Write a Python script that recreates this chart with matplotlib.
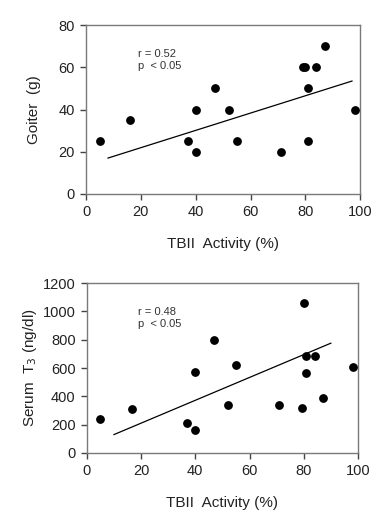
import matplotlib.pyplot as plt

# goiter panel
tbii_a = [5, 16, 37, 40, 40, 47, 52, 55, 71, 79, 80, 84, 87, 81, 81, 98]
goiter = [25, 35, 25, 40, 20, 50, 40, 25, 20, 60, 60, 60, 70, 50, 25, 40]
fit_a_x = [8, 97]
fit_a_y = [17, 53.5]

# serum T3 panel
tbii_b = [5, 16.5, 37, 40, 40, 47, 52, 55, 71, 79.5, 80, 81, 81, 84, 87, 98]
t3 = [240, 310, 210, 165, 575, 800, 337, 620, 337, 318, 1060, 568, 684, 684, 391, 611]
fit_b_x = [10, 90]
fit_b_y = [130, 776]

plt.rcParams['font.family'] = ['Liberation Sans', 'DejaVu Sans']

fig = plt.figure(figsize=(3.76, 5.13), dpi=100)
ax1 = fig.add_axes([0.229, 0.622, 0.729, 0.329])
ax2 = fig.add_axes([0.231, 0.117, 0.721, 0.331])


def style(ax, ymax, ystep, ylabel, stat, ylab_x):
    ax.set_xlim(0, 100)
    ax.set_ylim(0, ymax)
    ax.set_xticks(range(0, 101, 20))
    ax.set_yticks(range(0, ymax + 1, ystep))
    for s in ax.spines.values():
        s.set_color('#7a7a7a')
        s.set_linewidth(1.0)
    ax.tick_params(direction='out', length=4, width=1, color='#444444',
                   labelsize=10.5, pad=4, colors='#222222')
    ax.set_xlabel('TBII  Activity (%)', fontsize=11, color='#222222', labelpad=13)
    ax.set_ylabel(ylabel, fontsize=11, color='#222222')
    ax.yaxis.set_label_coords(ylab_x, 0.5)
    ax.text(0.19, 0.86, stat, transform=ax.transAxes, fontsize=8,
            va='top', ha='left', color='#333333', linespacing=1.25)


ax1.scatter(tbii_a, goiter, s=28, color='black', zorder=3)
ax1.plot(fit_a_x, fit_a_y, color='black', lw=0.9)
style(ax1, 80, 20, 'Goiter  (g)', 'r = 0.52\np  < 0.05', -0.165)

ax2.scatter(tbii_b, t3, s=28, color='black', zorder=3)
ax2.plot(fit_b_x, fit_b_y, color='black', lw=0.9)
style(ax2, 1200, 200, 'Serum  T$_3$ (ng/dl)', 'r = 0.48\np  < 0.05', -0.175)

fig.savefig('out.png', dpi=100)
